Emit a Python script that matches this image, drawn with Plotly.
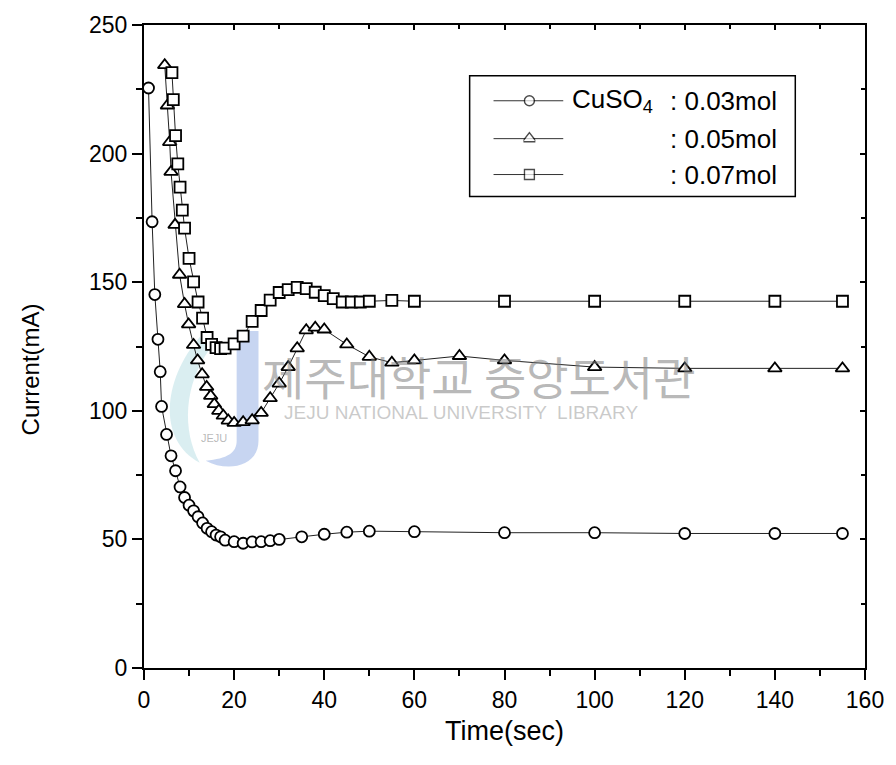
import plotly.graph_objects as go

# Current transients for three CuSO4 concentrations
t_003 = [1, 1.8, 2.4, 3.1, 3.6, 3.9, 5, 6, 7, 8, 9, 10, 11, 12, 13, 14, 15, 16, 17, 18,
         20, 22, 24, 26, 28, 30, 35, 40, 45, 50, 60, 80, 100, 120, 140, 155]
i_003 = [225.5, 173.5, 145.2, 127.8, 115.2, 101.7, 90.8, 82.5, 76.7, 70.4, 66.3, 63.3,
         61.1, 58.8, 56.4, 54.3, 53.0, 51.7, 51.0, 49.7, 49.1, 48.5, 49.0, 49.1, 49.5,
         50.0, 51.0, 52.0, 52.8, 53.2, 53.0, 52.6, 52.6, 52.3, 52.3, 52.3]

t_005 = [4.6, 5.2, 5.7, 6, 6.9, 7.9, 9, 9.9, 11, 11.9, 12.9, 13.9, 14.8, 15.6, 16.6,
         17.6, 18.7, 20, 22, 24, 26, 28, 30, 32, 34, 36, 38, 40, 45, 50, 55, 60, 70, 80,
         100, 120, 140, 155]
i_005 = [234.4, 218.7, 204.5, 192.9, 172.3, 152.9, 141.5, 133.6, 125.6, 119.6, 114.2,
         109.3, 105.8, 102.6, 100.0, 98.1, 96.2, 95.3, 95.6, 96.3, 99.2, 104.9, 110.6,
         117.0, 124.3, 131.3, 132.3, 131.6, 125.8, 121.0, 118.7, 119.6, 121.3, 119.6,
         117.0, 116.5, 116.5, 116.5]

t_007 = [6.2, 6.5, 7, 7.5, 8, 8.5, 9, 10, 11, 12, 13, 14, 15, 16, 17, 18, 20, 22, 24, 26,
         28, 30, 32, 34, 36, 38, 40, 42, 44, 46, 48, 50, 55, 60, 80, 100, 120, 140, 155]
i_007 = [231.5, 221.0, 207.0, 196.0, 187.0, 178.0, 171.0, 159.3, 150.1, 142.3, 136.0,
         128.5, 125.8, 124.6, 124.2, 124.4, 126.0, 129.0, 134.8, 139.0, 143.0, 146.0,
         147.1, 148.0, 147.5, 146.1, 144.8, 143.6, 142.3, 142.3, 142.3, 142.6, 142.9,
         142.6, 142.6, 142.6, 142.6, 142.6, 142.6]

labels = [": 0.03mol", ": 0.05mol", ": 0.07mol"]
symbols = ["circle", "triangle-up", "square"]
sizes = [11, 12, 11]
series = list(zip([t_003, t_005, t_007], [i_003, i_005, i_007], symbols, sizes, labels))

W, H = 896, 765
L, R, T, B = 144, 28, 23, 97
FONT = "Liberation Sans, Arial, sans-serif"


def px(xp):
    return (xp - L) / (W - L - R)


def py(yp):
    return (H - B - yp) / (H - T - B)


def path(points):
    """SVG path in paper units from (cmd, x, y, ...) pixel tuples."""
    out = []
    for cmd, *xy in points:
        coords = []
        for k in range(0, len(xy), 2):
            coords.append(f"{px(xy[k]):.4f},{py(xy[k + 1]):.4f}")
        out.append(cmd + " ".join(coords))
    return " ".join(out) + " Z"


fig = go.Figure()

for t, cur, sym, size, name in series:
    fig.add_trace(go.Scatter(
        x=t, y=cur, mode="lines+markers", name=name, showlegend=False,
        line=dict(color="#222222", width=1),
        marker=dict(symbol=sym, size=size, color="white",
                    line=dict(color="black", width=1.8)),
    ))

# mirrored frame axes (ticks pointing inward)
fig.add_trace(go.Scatter(x=[], y=[], xaxis="x2", yaxis="y2", showlegend=False,
                         hoverinfo="skip"))

axis_common = dict(showline=True, linecolor="black", linewidth=2, showgrid=False,
                   zeroline=False)

fig.update_layout(
    width=W, height=H,
    margin=dict(l=L, r=R, t=T, b=B),
    plot_bgcolor="rgba(0,0,0,0)", paper_bgcolor="white",
    font=dict(family=FONT, size=23, color="black"),
    showlegend=False,
    xaxis=dict(range=[0, 160], dtick=20, ticks="outside", ticklen=10, tickwidth=2,
               tickcolor="black", minor=dict(dtick=10, ticks="outside", ticklen=6,
                                             tickwidth=2, tickcolor="black"),
               title=dict(text="Time(sec)", font=dict(size=27), standoff=10),
               tickfont=dict(size=23), **axis_common),
    yaxis=dict(range=[0, 250], dtick=50, ticks="outside", ticklen=10, tickwidth=2,
               tickcolor="black", minor=dict(dtick=25, ticks="outside", ticklen=6,
                                             tickwidth=2, tickcolor="black"),
               tickfont=dict(size=23), **axis_common),
    xaxis2=dict(range=[0, 160], overlaying="x", side="top", dtick=20, ticks="inside",
                ticklen=5, tickwidth=2, tickcolor="black", showticklabels=False,
                minor=dict(dtick=10, ticks="inside", ticklen=4, tickwidth=2,
                           tickcolor="black"), **axis_common),
    yaxis2=dict(range=[0, 250], overlaying="y", side="right", dtick=50, ticks="inside",
                ticklen=5, tickwidth=2, tickcolor="black", showticklabels=False,
                minor=dict(dtick=25, ticks="inside", ticklen=4, tickwidth=2,
                           tickcolor="black"), **axis_common),
)

annotations = []
# y-axis title
annotations.append(dict(xref="paper", yref="paper", x=px(30), y=py(368),
                        xanchor="center", yanchor="middle", showarrow=False,
                        textangle=-90, text="Current(mA)", font=dict(size=24)))

# legend box, drawn beneath the sample markers
shapes = [dict(type="rect", xref="paper", yref="paper", x0=px(471), x1=px(798),
               y0=py(195), y1=py(74), line=dict(color="black", width=1.5),
               fillcolor="white", layer="below")]
row_y = [99, 137, 173]
for (t, cur, sym, size, name), ry in zip(series, row_y):
    shapes.append(dict(type="line", xref="paper", yref="paper", x0=px(495), x1=px(565),
                       y0=py(ry), y1=py(ry), line=dict(color="#333333", width=1),
                       layer="below"))
    annotations.append(dict(xref="paper", yref="paper", x=px(670), y=py(ry),
                            xanchor="left", yanchor="middle", showarrow=False,
                            text=name, font=dict(size=26)))
annotations.append(dict(xref="paper", yref="paper", x=px(572), y=py(99),
                        xanchor="left", yanchor="middle", showarrow=False,
                        text="CuSO<sub>4</sub>", font=dict(size=26)))

# library watermark: emblem, name and English caption
shapes.append(dict(type="path", xref="paper", yref="paper", layer="below",
                   path=path([("M", 200, 336), ("C", 162, 380, 158, 440, 200, 462),
                              ("C", 182, 430, 184, 384, 210, 348)]),
                   fillcolor="rgba(150,205,215,0.35)", line=dict(width=0)))
shapes.append(dict(type="path", xref="paper", yref="paper", layer="below",
                   path=path([("M", 237, 330), ("L", 259, 330), ("L", 259, 440),
                              ("C", 259, 466, 228, 472, 206, 460),
                              ("C", 228, 458, 237, 452, 237, 440)]),
                   fillcolor="rgba(115,150,220,0.4)", line=dict(width=0)))
wm_color = "rgba(125,125,125,0.55)"
annotations.append(dict(xref="paper", yref="paper", x=px(214), y=py(437),
                        xanchor="center", yanchor="middle", showarrow=False,
                        text="JEJU", font=dict(size=11, color=wm_color)))
annotations.append(dict(xref="paper", yref="paper", x=px(480), y=py(374),
                        xanchor="center", yanchor="middle", showarrow=False,
                        text="제주대학교 중앙도서관",
                        font=dict(family="Noto Sans CJK KR", size=46, color=wm_color)))
annotations.append(dict(xref="paper", yref="paper", x=px(462), y=py(412),
                        xanchor="center", yanchor="middle", showarrow=False,
                        text="JEJU NATIONAL UNIVERSITY  LIBRARY",
                        font=dict(family="Liberation Sans", size=19,
                                  color="rgba(150,150,150,0.5)")))

fig.update_layout(shapes=shapes, annotations=annotations)

# legend sample markers on an auxiliary axis laid over the legend box
fig.add_trace(go.Scatter(
    x=[0.5, 0.5, 0.5], y=[py(99), py(137), py(173)], xaxis="x3", yaxis="y3",
    mode="markers", showlegend=False, hoverinfo="skip",
    marker=dict(symbol=symbols, size=[10, 12, 10], color="white",
                line=dict(color="black", width=1.5)),
))
fig.update_layout(
    xaxis3=dict(domain=[px(525), px(537)], range=[0, 1], visible=False, anchor="y3"),
    yaxis3=dict(domain=[0, 1], range=[0, 1], visible=False, anchor="x3"),
)

fig.write_html("out.html")
